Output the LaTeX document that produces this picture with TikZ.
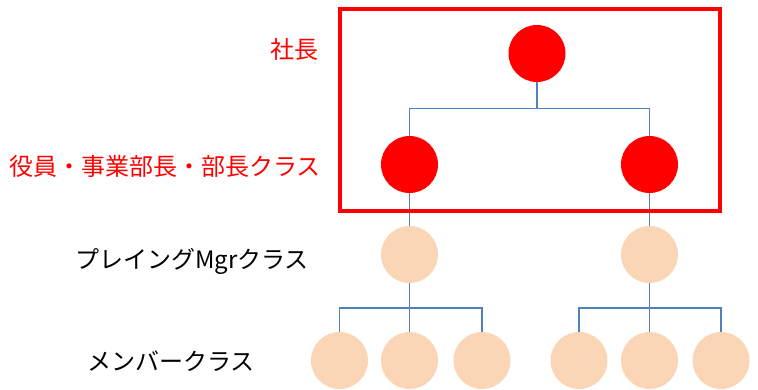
\documentclass[tikz,border=0pt]{standalone}
\usepackage{fontspec}
\newfontfamily\jp{Noto Sans CJK JP}
\definecolor{boss}{HTML}{FF0000}
\definecolor{peach}{HTML}{FAD6B6}
\definecolor{conn}{HTML}{4F81BD}
\begin{document}
\begin{tikzpicture}[x=1pt,y=-1pt,
  redc/.style={circle,fill=boss,minimum size=57pt,inner sep=0pt},
  pc/.style={circle,fill=peach,minimum size=57pt,inner sep=0pt},
  link/.style={draw=conn,line width=1.9pt},
  lab/.style={font=\jp\fontsize{24}{27}\selectfont,inner sep=0pt}]
\useasboundingbox (0,0) rectangle (758,389);
% nodes
\node[redc] (t) at (537,53.5) {};
\node[redc] (a) at (409.5,164.5) {};
\node[redc] (b) at (649.5,164.5) {};
\node[pc] (c) at (409.5,254.5) {};
\node[pc] (d) at (649.5,254.5) {};
\node[pc] (m1) at (339.5,360.5) {};
\node[pc] (m2) at (409.5,360.5) {};
\node[pc] (m3) at (482,360.5) {};
\node[pc] (m4) at (579,360.5) {};
\node[pc] (m5) at (649.5,360.5) {};
\node[pc] (m6) at (721,360.5) {};
% junctions
\coordinate (j1) at (537,108.5);
\coordinate (j2) at (409.5,308);
\coordinate (j3) at (649.5,308);
\draw[link] (t) -- (j1);
\draw[link] (j1) -| (a);
\draw[link] (j1) -| (b);
\draw[link] (a) -- (c);
\draw[link] (b) -- (d);
\draw[link] (c) -- (j2);
\draw[link] (j2) -| (m1);
\draw[link] (j2) -- (m2);
\draw[link] (j2) -| (m3);
\draw[link] (d) -- (j3);
\draw[link] (j3) -| (m4);
\draw[link] (j3) -- (m5);
\draw[link] (j3) -| (m6);
% frame
\node[draw=boss,line width=4pt,minimum width=380pt,minimum height=202pt,inner sep=0pt] (frame) at (530,110) {};
% labels
\node[lab,text=boss,anchor=east] (l1) at (319,49) {社長};
\node[lab,text=boss,anchor=east] (l2) at (321,166) {役員・事業部長・部長クラス};
\node[lab,anchor=center] (l3) at (192,261) {プレイングMgrクラス};
\node[lab,anchor=center] (l4) at (171,361) {メンバークラス};
\end{tikzpicture}
\end{document}
